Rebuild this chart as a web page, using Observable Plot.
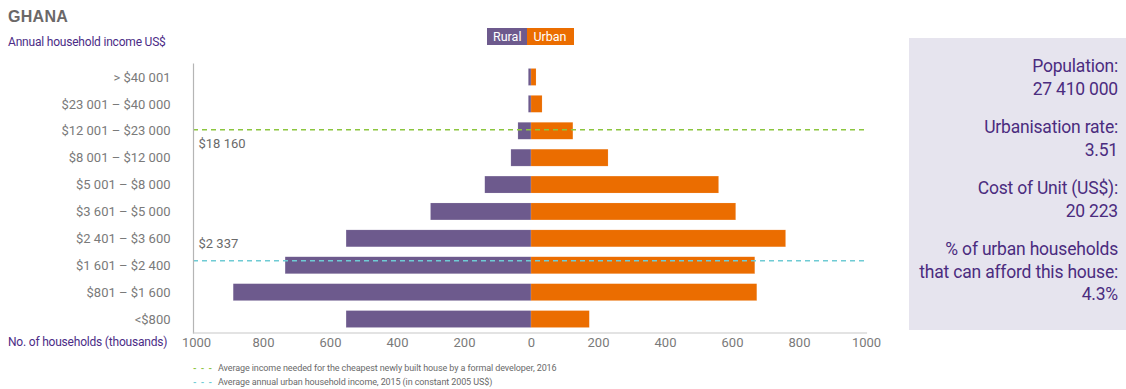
<!DOCTYPE html>
<html>
<head>
<meta charset="utf-8">
<script src="https://cdn.jsdelivr.net/npm/d3@7"></script>
<script src="https://cdn.jsdelivr.net/npm/@observablehq/plot@0.6"></script>
<style>
  html, body { margin: 0; padding: 0; background: #fff; }
  body { width: 1126px; height: 389px; position: relative; overflow: hidden;
         font-family: "Roboto", "Liberation Sans", sans-serif; }
  .abs { position: absolute; white-space: nowrap; }
  #title { left: 8px; top: 8px; font-family: "Liberation Sans", sans-serif; font-weight: bold; font-size: 16px; color: #6b6868; letter-spacing: 0.3px; }
  #ylab { left: 8px; top: 35px; font-size: 12px; letter-spacing: -0.2px; color: #4b2c86; }
  #xlab { left: 8px; top: 335px; font-size: 12px; letter-spacing: -0.2px; color: #4b2c86; }
  #legend { left: 487px; top: 28px; display: flex; font-size: 12.5px; color: #fff; }
  #legend div { height: 17px; line-height: 17px; padding: 0 6px; }
  #legend div:last-child { padding: 0 7px 0 6px; }
  #chart { left: 0; top: 50px; line-height: 0; }
  #notes { left: 193px; top: 361px; font-size: 9px; letter-spacing: -0.1px; color: #6a6a6a; line-height: 14px; }
  #notes .dash { display: inline-block; width: 17px; margin-right: 8px; letter-spacing: 1px; font-weight: bold; }
  #panel { left: 909px; top: 38px; width: 217px; height: 292px; background: #e6e4ee; }
  #panel .inner { position: absolute; right: 8px; top: 17px; text-align: right; color: #4b2c7f; font-size: 17.5px; line-height: 22.5px; letter-spacing: -0.2px; }
  #panel .grp { margin-bottom: 16px; }
</style>
</head>
<body>
<div id="title" class="abs">GHANA</div>
<div id="ylab" class="abs">Annual household income US$</div>
<div id="legend" class="abs"></div>
<div id="chart" class="abs"></div>
<div id="xlab" class="abs">No. of households (thousands)</div>
<div id="notes" class="abs"></div>
<div id="panel" class="abs"><div class="inner"></div></div>
<script>
// ---- data ----
const categories = ["> $40 001", "$23 001 – $40 000", "$12 001 – $23 000", "$8 001 – $12 000",
  "$5 001 – $8 000", "$3 601 – $5 000", "$2 401 – $3 600", "$1 601 – $2 400", "$801 – $1 600", "<$800"];
const rural = [8, 8, 39, 60, 138, 300, 552, 734, 889, 552];
const urban = [15, 33, 125, 230, 560, 611, 760, 668, 674, 174];
const xTicks = [-1000, -800, -600, -400, -200, 0, 200, 400, 600, 800, 1000];
const seriesNames = ["Rural", "Urban"];
const seriesColors = ["#6d5a8d", "#eb6d00"];
const refLines = [
  {band: "$12 001 – $23 000", label: "$18 160", color: "#8cc63f",
   note: "Average income needed for the cheapest newly built house by a formal developer, 2016"},
  {band: "$1 601 – $2 400", label: "$2 337", color: "#6fcbd4",
   note: "Average annual urban household income, 2015 (in constant 2005 US$)"}
];
const panelItems = [
  ["Population:", "27 410 000"],
  ["Urbanisation rate:", "3.51"],
  ["Cost of Unit (US$):", "20 223"],
  ["% of urban households", "that can afford this house:", "4.3%"]
];

// ---- table ----
const rows = [];
categories.forEach((c, i) => {
  rows.push({cat: c, series: "Rural", value: -rural[i]});
  rows.push({cat: c, series: "Urban", value: urban[i]});
});

const font = '"Roboto", "Liberation Sans", sans-serif';
const chart = Plot.plot({
  width: 900,
  height: 310,
  marginLeft: 193,
  marginRight: 34,
  marginTop: 13.5,
  marginBottom: 27.5,
  style: {fontFamily: font, fontSize: "12.5px", color: "#7a7a7a", background: "transparent"},
  x: {domain: [-1000, 1000], insetLeft: 3, label: null},
  y: {domain: categories, paddingInner: 0.37, paddingOuter: 0.185, round: false, label: null},
  color: {domain: seriesNames, range: seriesColors},
  marks: [
    Plot.barX(rows, {x: "value", y: "cat", fill: "series", stroke: "#fff", strokeOpacity: 0.25, strokeWidth: 0.5}),
    Plot.ruleY([refLines[0]], {y: "band", dy: -1.5, stroke: d => d.color, strokeWidth: 1.6, strokeDasharray: "5,4"}),
    Plot.ruleY([refLines[1]], {y: "band", dy: -5, stroke: d => d.color, strokeWidth: 1.6, strokeDasharray: "5,4"}),
    Plot.text([refLines[0]], {x: -1000, y: "band", text: "label", textAnchor: "start", dx: 2, dy: 13, fill: "#6a6a6a", fontSize: 13}),
    Plot.text([refLines[1]], {x: -1000, y: "band", text: "label", dy: -22, textAnchor: "start", dx: 2, fill: "#6a6a6a", fontSize: 13}),
    Plot.frame({anchor: "left", stroke: "#b5b5b5", strokeWidth: 1.2}),
    Plot.frame({anchor: "bottom", stroke: "#c8c8c8", strokeWidth: 1.2}),
    Plot.axisX({ticks: xTicks, tickFormat: d => String(Math.abs(d)), tickSize: 0, tickPadding: 5, fill: "#7a7a7a", fontSize: 13, label: null}),
    Plot.axisY({tickSize: 0, tickPadding: 23, fill: "#7a7a7a", fontSize: 13, label: null})
  ]
});
document.getElementById("chart").appendChild(chart);

// legend
const leg = document.getElementById("legend");
seriesNames.forEach((n, i) => {
  const d = document.createElement("div");
  d.textContent = n;
  d.style.background = seriesColors[i];
  leg.appendChild(d);
});

// notes
const notes = document.getElementById("notes");
refLines.forEach(r => {
  const line = document.createElement("div");
  line.innerHTML = `<span class="dash" style="color:${r.color}">- - -</span>`;
  line.appendChild(document.createTextNode(r.note));
  notes.appendChild(line);
});

// panel
const inner = document.querySelector("#panel .inner");
panelItems.forEach(g => {
  const d = document.createElement("div");
  d.className = "grp";
  g.forEach(t => { const l = document.createElement("div"); l.textContent = t; d.appendChild(l); });
  inner.appendChild(d);
});
</script>
</body>
</html>
